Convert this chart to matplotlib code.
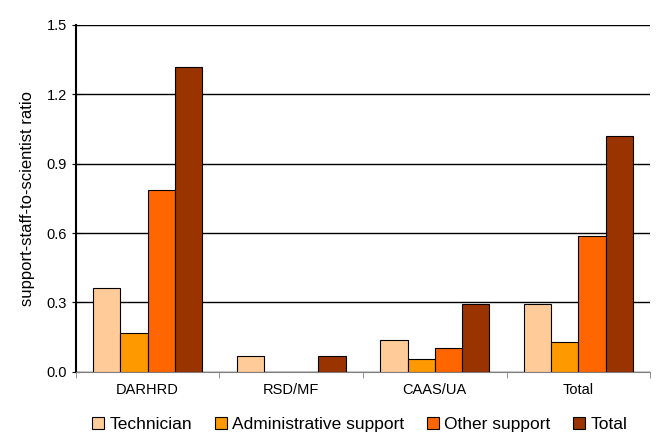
import numpy as np
import matplotlib.pyplot as plt

plt.rcParams["font.family"] = "Liberation Sans"
plt.rcParams["font.size"] = 10.5

categories = ['DARHRD', 'RSD/MF', 'CAAS/UA', 'Total']
series = ['Technician', 'Administrative support', 'Other support', 'Total']
technician = [0.363, 0.069, 0.138, 0.294]
admin_support = [0.168, 0.0, 0.056, 0.130]
other_support = [0.786, 0.0, 0.104, 0.588]
total = [1.318, 0.069, 0.294, 1.020]
colors = ['#FFCC99', '#FF9900', '#FF6600', '#993300']

values = [technician, admin_support, other_support, total]

fig = plt.figure(figsize=(6.6, 4.37), dpi=100)
ax = fig.add_axes([0.115, 0.149, 0.87, 0.794])

x = np.arange(len(categories))
w = 0.19
for i, (vals, name, c) in enumerate(zip(values, series, colors)):
    ax.bar(x + (i - 1.5) * w, vals, w, color=c, edgecolor='black',
           linewidth=0.8, label=name, zorder=3)

ax.set_xlim(-0.5, len(categories) - 0.5)
ax.set_ylim(0, 1.5)
ax.set_yticks(np.arange(0, 1.51, 0.3))
ax.set_yticklabels(['%.1f' % v for v in np.arange(0, 1.51, 0.3)])
ax.yaxis.grid(True, color='black', linewidth=1.0, zorder=0)
ax.set_xticks(x)
ax.set_xticklabels(categories)
ax.set_xticks(np.arange(-0.5, len(categories)), minor=True)
ax.tick_params(axis='x', which='major', length=0, pad=8)
ax.tick_params(axis='x', which='minor', length=4, color='gray')
ax.tick_params(axis='y', direction='inout', length=6)
for s in ['top', 'right']:
    ax.spines[s].set_visible(False)
ax.spines['bottom'].set_color('gray')
ax.spines['left'].set_linewidth(1.5)
ax.set_ylabel('support-staff-to-scientist ratio', fontsize=12, labelpad=8)

fig.legend(loc='lower center', bbox_to_anchor=(0.545, -0.025), ncol=4,
           frameon=False, fontsize=12.5, handlelength=0.7, handleheight=0.7,
           handletextpad=0.3, columnspacing=1.3)

fig.savefig('out.png', dpi=100)
